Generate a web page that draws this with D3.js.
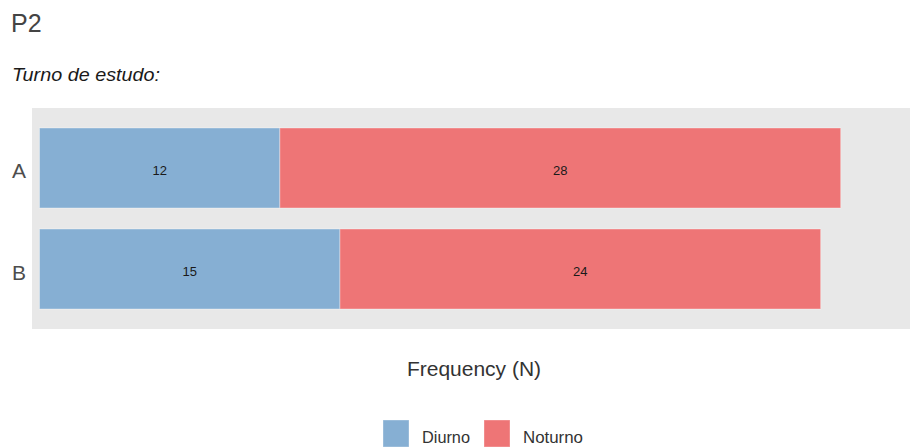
<!DOCTYPE html>
<meta charset="utf-8">
<html>
<style type='text/css'>
  body { margin:0; background:#fff; }
  text { font-family: "Liberation Sans", Arial, sans-serif; }
</style>
<script src="https://d3js.org/d3.v7.min.js"></script>
<body>
<svg id="chart" width="910" height="448"></svg>

<script>

// Data
var groups = ["A", "B"];
var series = ["Diurno", "Noturno"];
var diurno = [12, 15];
var noturno = [28, 24];
var colors = ["#86afd3", "#ee7576"];

var svg = d3.select("#chart");

// panel area
var panel = {left: 32, right: 910, top: 108, bottom: 329};

var x = d3.scaleLinear()
  .domain([0, 40])
  .range([39.5, 39.5 + 40 * 20.03]);

var y = d3.scaleBand()
  .domain(groups)
  .range([panel.top, panel.bottom])
  .paddingInner(0.208)
  .paddingOuter(0.198);

// title + subtitle
svg.append("text")
  .attr("x", 11).attr("y", 32)
  .attr("font-size", 25)
  .attr("fill", "#444")
  .text("P2");

svg.append("text")
  .attr("x", 12).attr("y", 81)
  .attr("font-size", 19)
  .attr("font-style", "italic")
  .attr("fill", "#1a1a1a")
  .attr("textLength", 148)
  .attr("lengthAdjust", "spacingAndGlyphs")
  .text("Turno de estudo:");

// gray panel
svg.append("rect")
  .attr("x", panel.left).attr("y", panel.top)
  .attr("width", panel.right - panel.left)
  .attr("height", panel.bottom - panel.top)
  .attr("fill", "#e8e8e8");

// stack
var rows = groups.map(function(g, i) {
  return {group: g, Diurno: diurno[i], Noturno: noturno[i]};
});
var stacked = d3.stack().keys(series)(rows);

var layer = svg.selectAll("g.layer")
  .data(stacked)
  .enter().append("g")
  .attr("class", "layer")
  .attr("fill", function(d, i) { return colors[i]; });

layer.selectAll("rect")
  .data(function(d) { return d; })
  .enter().append("rect")
  .attr("x", function(d) { return x(d[0]); })
  .attr("y", function(d) { return y(d.data.group); })
  .attr("width", function(d) { return x(d[1]) - x(d[0]); })
  .attr("height", y.bandwidth())
  .attr("stroke", "rgba(255,255,255,0.35)")
  .attr("stroke-width", 1);

layer.selectAll("text")
  .data(function(d) { return d; })
  .enter().append("text")
  .attr("x", function(d) { return (x(d[0]) + x(d[1])) / 2; })
  .attr("y", function(d) { return y(d.data.group) + y.bandwidth() / 2; })
  .attr("dy", "0.55em")
  .attr("text-anchor", "middle")
  .attr("font-size", 13)
  .attr("fill", "#1a1a1a")
  .text(function(d) { return d[1] - d[0]; });

// y axis labels (no ticks)
var yAxis = d3.axisLeft(y).tickSize(0).tickPadding(0);
var ya = svg.append("g")
  .attr("transform", "translate(26,0)")
  .call(yAxis);
ya.select(".domain").remove();
ya.selectAll("text")
  .attr("font-size", 21)
  .attr("dy", "0.5em")
  .attr("fill", "#4d4d4d")
  .style("font-family", "Liberation Sans, Arial, sans-serif");

// x axis title
svg.append("text")
  .attr("x", 474).attr("y", 376)
  .attr("text-anchor", "middle")
  .attr("font-size", 21)
  .attr("fill", "#333")
  .text("Frequency (N)");

// legend
var legendX = [383, 484];
var leg = svg.selectAll("g.leg")
  .data(series)
  .enter().append("g")
  .attr("class", "leg")
  .attr("transform", function(d, i) { return "translate(" + legendX[i] + ",420)"; });

leg.append("rect")
  .attr("width", 26).attr("height", 27)
  .attr("fill", function(d, i) { return colors[i]; })
  .attr("stroke", "rgba(255,255,255,0.35)");

leg.append("text")
  .attr("x", 39).attr("y", 23)
  .attr("font-size", 16)
  .attr("fill", "#333")
  .attr("textLength", function(d, i) { return i ? 60 : 48; })
  .attr("lengthAdjust", "spacingAndGlyphs")
  .text(function(d) { return d; });

</script>
</body>
</html>
